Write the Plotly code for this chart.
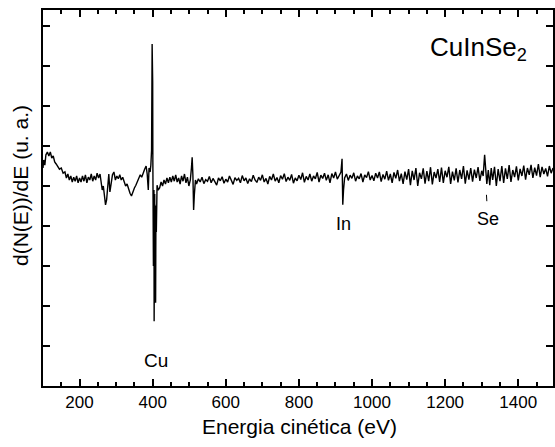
import plotly.graph_objects as go

# --- Data (kinetic energy in eV, dN(E)/dE in arbitrary units) ---
energy_start = [100, 102, 105, 108, 112, 116, 120, 124, 128, 132, 136, 140, 145, 150, 155, 160,
                164, 168, 172, 176, 180, 184, 188, 192, 196, 200, 204, 208, 212, 216, 220, 224,
                228, 232, 236, 240, 244, 248, 252, 256]
signal_start = [5.45, 5.65, 5.52, 5.78, 5.85, 5.75, 5.85, 5.70, 5.75, 5.60, 5.55, 5.50, 5.42, 5.45, 5.32, 5.35,
                5.20, 5.30, 5.15, 5.25, 5.10, 5.22, 5.12, 5.25, 5.08, 5.20, 5.10, 5.25, 5.12, 5.28, 5.08, 5.22,
                5.15, 5.30, 5.12, 5.25, 5.15, 5.32, 5.20, 5.30]

energy_low = [258, 262, 265, 268, 271, 274, 277, 280, 283, 286, 290, 294, 298, 302, 306, 310,
              314, 318, 322, 326, 330, 334, 338, 342, 346, 350, 354, 358, 362, 366, 370, 374,
              378, 382, 385, 388, 390, 393, 395]
signal_low = [5.10, 4.90, 5.00, 4.70, 4.53, 4.65, 4.95, 5.30, 4.85, 5.05, 5.28, 5.35, 5.15, 5.25, 5.18, 5.28,
              5.15, 5.22, 5.08, 5.00, 5.05, 4.90, 4.82, 4.75, 4.88, 4.95, 5.02, 5.10, 5.20, 5.28, 5.22, 5.35,
              5.42, 5.50, 5.30, 4.90, 5.45, 5.35, 5.52]

energy_cu = [397, 398.5, 400, 400.5, 401, 401.5, 402, 402.5, 403, 403.5, 404, 404.5, 405, 405.5,
             406, 406.5, 407, 408, 409, 410, 412]
signal_cu = [5.90, 8.55, 7.60, 5.60, 3.10, 5.00, 3.00, 5.00, 3.20, 4.90, 1.62, 4.60, 3.65, 4.80,
             2.90, 4.53, 3.40, 2.08, 4.50, 3.85, 5.02]

energy_mid = [415, 419, 423, 427, 431, 435, 439, 443, 447, 451, 455, 459, 463, 467, 471, 475,
              479, 483, 487, 491, 495, 499, 503, 506, 508, 510, 512, 514, 517]
signal_mid = [4.90, 4.95, 5.10, 5.00, 5.15, 5.05, 5.20, 5.08, 5.22, 5.10, 5.25, 5.12, 5.28, 5.10, 5.20, 5.05,
              5.25, 5.12, 5.30, 5.08, 5.22, 5.00, 5.15, 5.45, 5.72, 5.28, 4.40, 4.78, 5.15]

energy_flat = [520, 525, 530, 535, 540, 545, 550, 555, 560, 565, 570, 575, 580, 585, 590, 595,
               600, 605, 610, 615, 620, 625, 630, 635, 640, 645, 650, 655, 660, 665, 670, 675,
               680, 685, 690, 695, 700, 705, 710, 715, 720, 725, 730, 735, 740, 745, 750, 755,
               760, 765, 770, 775, 780, 785, 790, 795, 800, 805, 810, 815, 820, 825, 830, 835,
               840, 845, 850, 855, 860, 865, 870, 875, 880, 885, 890, 895, 900, 905, 910]
signal_flat = [5.05, 5.18, 5.10, 5.22, 5.06, 5.16, 5.12, 5.24, 5.08, 5.19, 5.11, 5.02, 5.20, 5.13, 5.23, 5.07,
               5.17, 5.10, 5.25, 5.12, 5.04, 5.21, 5.14, 5.19, 5.08, 5.26, 5.13, 5.20, 5.06, 5.18, 5.11, 5.27,
               5.15, 5.09, 5.22, 5.14, 5.28, 5.10, 5.19, 5.05, 5.24, 5.15, 5.30, 5.12, 5.21, 5.08, 5.26, 5.17,
               5.31, 5.11, 5.22, 5.14, 5.29, 5.07, 5.20, 5.13, 5.27, 5.16, 5.33, 5.09, 5.24, 5.15, 5.30, 5.12,
               5.25, 5.18, 5.34, 5.10, 5.27, 5.19, 5.32, 5.14, 5.28, 5.08, 5.31, 5.20, 5.35, 5.17, 5.26]

energy_in = [915, 918, 920, 922]
signal_in = [5.35, 5.68, 4.53, 4.90]

energy_high = [925, 930, 935, 940, 945, 950, 955, 960, 965, 970, 975, 980, 985, 990, 995, 1000,
               1005, 1010, 1015, 1020, 1025, 1030, 1035, 1040, 1045, 1050, 1055, 1060, 1065, 1070, 1075, 1080,
               1085, 1090, 1095, 1100, 1105, 1110, 1115, 1120, 1125, 1130, 1135, 1140, 1145, 1150, 1155, 1160,
               1165, 1170, 1175, 1180, 1185, 1190, 1195, 1200, 1205, 1210, 1215, 1220, 1225, 1230, 1235, 1240,
               1245, 1250, 1255, 1260, 1265, 1270, 1275, 1280, 1285, 1290, 1295, 1300]
signal_high = [5.20, 5.30, 5.14, 5.27, 5.19, 5.33, 5.12, 5.25, 5.18, 5.31, 5.10, 5.28, 5.21, 5.36, 5.15, 5.26,
               5.13, 5.32, 5.20, 5.35, 5.11, 5.29, 5.17, 5.37, 5.14, 5.30, 5.08, 5.34, 5.19, 5.40, 5.12, 5.31,
               5.05, 5.36, 5.16, 5.42, 5.02, 5.38, 5.15, 5.45, 5.00, 5.33, 5.18, 5.44, 5.06, 5.37, 5.12, 5.47,
               5.04, 5.35, 5.20, 5.42, 5.10, 5.46, 5.08, 5.38, 5.22, 5.48, 5.05, 5.36, 5.14, 5.44, 5.09, 5.40,
               5.18, 5.50, 5.06, 5.39, 5.16, 5.45, 5.11, 5.41, 5.20, 5.47, 5.13, 5.38]

energy_se = [1304, 1308, 1311, 1314, 1318, 1322, 1326, 1330, 1335, 1340, 1345, 1350, 1355, 1360, 1365, 1370,
             1375, 1380, 1385, 1390, 1395, 1400, 1405, 1410, 1415, 1420, 1425, 1430, 1435, 1440, 1445, 1450,
             1455, 1460, 1465, 1470, 1475, 1480, 1485, 1490, 1495]
signal_se = [5.25, 5.78, 5.50, 5.05, 5.40, 5.02, 5.45, 5.15, 5.48, 5.00, 5.42, 5.12, 5.50, 5.08, 5.44, 5.18,
             5.52, 5.10, 5.40, 5.22, 5.49, 5.14, 5.43, 5.25, 5.51, 5.16, 5.45, 5.28, 5.53, 5.20, 5.46, 5.26,
             5.55, 5.22, 5.48, 5.30, 5.44, 5.24, 5.50, 5.32, 5.45]

x_ticks = [200, 400, 600, 800, 1000, 1200, 1400]
x_tick_labels = ["200", "400", "600", "800", "1000", "1200", "1400"]

energy = (energy_start + energy_low + energy_cu + energy_mid + energy_flat
          + energy_in + energy_high + energy_se)
signal = (signal_start + signal_low + signal_cu + signal_mid + signal_flat
          + signal_in + signal_high + signal_se)

FONT = "Liberation Sans, Arial, sans-serif"

fig = go.Figure()
fig.add_trace(go.Scatter(x=energy, y=signal, mode="lines",
                         line=dict(color="black", width=1.4), showlegend=False,
                         hoverinfo="skip"))

axis_common = dict(showgrid=False, zeroline=False, showline=True, linecolor="black",
                   linewidth=2, mirror="allticks", ticks="inside", tickcolor="black",
                   tickwidth=1.5)

fig.update_xaxes(range=[100, 1495], tickvals=x_ticks, ticktext=x_tick_labels,
                 ticklen=7, tickfont=dict(family=FONT, size=17, color="black"),
                 minor=dict(dtick=50, tick0=0, ticks="inside", ticklen=4,
                            tickcolor="black", tickwidth=1.5),
                 **axis_common)
fig.update_yaxes(range=[0, 9.4], dtick=1, tick0=0, ticklen=7, showticklabels=False,
                 **axis_common)

annotations = [
    dict(text="CuInSe<sub>2</sub>", x=1154, y=8.45, xref="x", yref="y",
         xanchor="left", yanchor="middle", showarrow=False,
         font=dict(family=FONT, size=26, color="black")),
    dict(text="Cu", x=408, y=0.65, xref="x", yref="y", showarrow=False,
         font=dict(family=FONT, size=19, color="black")),
    dict(text="In", x=922, y=4.05, xref="x", yref="y", showarrow=False,
         font=dict(family=FONT, size=18, color="black")),
    dict(text="Se", x=1317, y=4.18, xref="x", yref="y", showarrow=False,
         font=dict(family=FONT, size=18, color="black")),
    dict(text="Energia cinética (eV)", x=0.502, y=-0.109, xref="paper", yref="paper",
         xanchor="center", yanchor="middle", showarrow=False,
         font=dict(family=FONT, size=21, color="black")),
    dict(text="d(N(E))/dE (u. a.)", x=-0.043, y=0.532, xref="paper", yref="paper",
         xanchor="center", yanchor="middle", textangle=-90, showarrow=False,
         font=dict(family=FONT, size=21, color="black")),
]

fig.update_layout(
    width=555, height=447,
    margin=dict(l=43, r=0, t=10, b=61),
    paper_bgcolor="white", plot_bgcolor="white",
    annotations=annotations,
    shapes=[dict(type="line", xref="x", yref="y", x0=1314, x1=1313, y0=4.62, y1=4.78,
                 line=dict(color="black", width=1))],
)

fig.write_html("out.html")
